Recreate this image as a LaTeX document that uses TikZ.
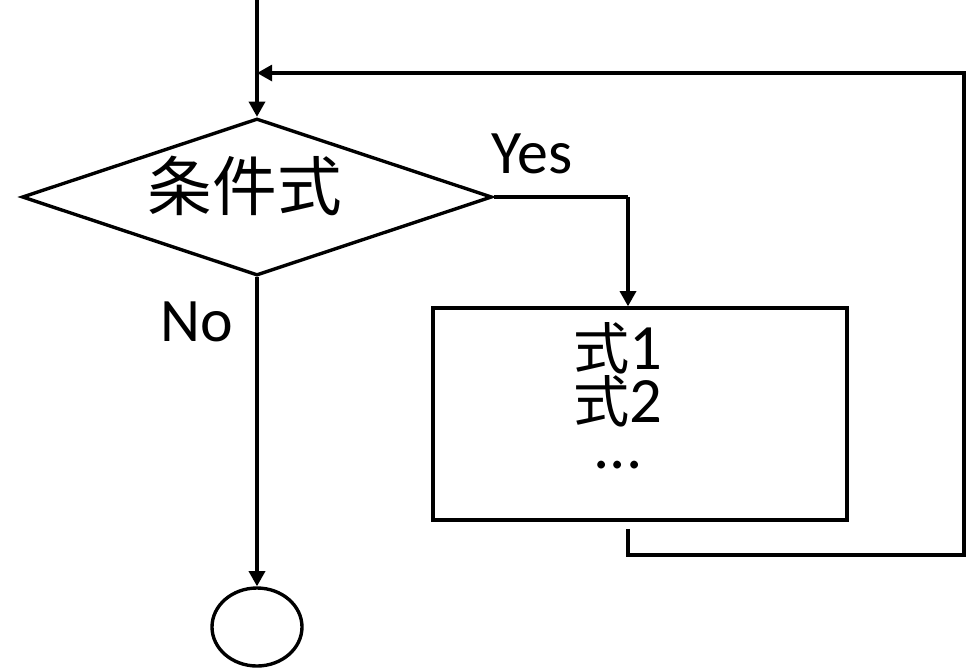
\documentclass[tikz,border=0pt]{standalone}
\usepackage{fontspec}
\setmainfont{Carlito}
\newfontfamily\cjk{Noto Sans CJK JP}
\usetikzlibrary{shapes.geometric,arrows.meta,positioning}
\tikzset{
	flow/.style={line width=2.4pt},
	arr/.style={flow, -{Triangle[width=0.4cm,length=0.38cm]}},
	decision/.style={draw, flow, diamond, minimum width=11.75cm, minimum height=3.925cm, inner sep=0pt},
	process/.style={draw, flow, rectangle, minimum width=10.35cm, minimum height=5.3cm},
	terminal/.style={draw, flow, ellipse, minimum width=2.25cm, minimum height=1.95cm, inner sep=0pt}
}
\begin{document}
\begin{tikzpicture}
	\useasboundingbox (0,0) rectangle (24.175,-16.7);
	
	%shapes
	\node[decision] (cond) at (6.425,-4.925) {};
	\node[font=\cjk\fontsize{46}{50}\selectfont] (condtext) at (6.125,-4.65) {条件式};
	\node[process] (body) at (16.0,-10.35) {};
	\node[align=center, font=\fontsize{46}{32.7}\selectfont] (bodytext) at (15.45,-9.9)
		{{\cjk\fontsize{40}{32.7}\selectfont 式}1\\{\cjk\fontsize{40}{32.7}\selectfont 式}2\\...};
	\node[terminal] (stop) at (6.425,-15.675) {};
	
	%labels
	\node[font=\fontsize{44}{48}\selectfont] (yes) at (13.3,-3.85) {Yes};
	\node[font=\fontsize{44}{48}\selectfont] (no) at (4.925,-8.05) {No};
	
	%helper points
	\coordinate (start) at (6.425,0.1);
	\coordinate (yesturn) at (15.7,-4.925);
	\coordinate (loopcorner) at (24.1,-13.875);
	\coordinate (entry) at (6.425,-1.825);
	
	%connectors
	\draw[arr] (start) -- (cond.north);
	\draw[flow] (cond.east) -- (yesturn);
	\draw[arr] (yesturn) -- (yesturn |- body.north);
	\draw[arr] (cond.south) -- (stop.north);
	\draw[arr] ([yshift=-0.18cm]yesturn |- body.south) |- (loopcorner) |- (entry);
\end{tikzpicture}
\end{document}
